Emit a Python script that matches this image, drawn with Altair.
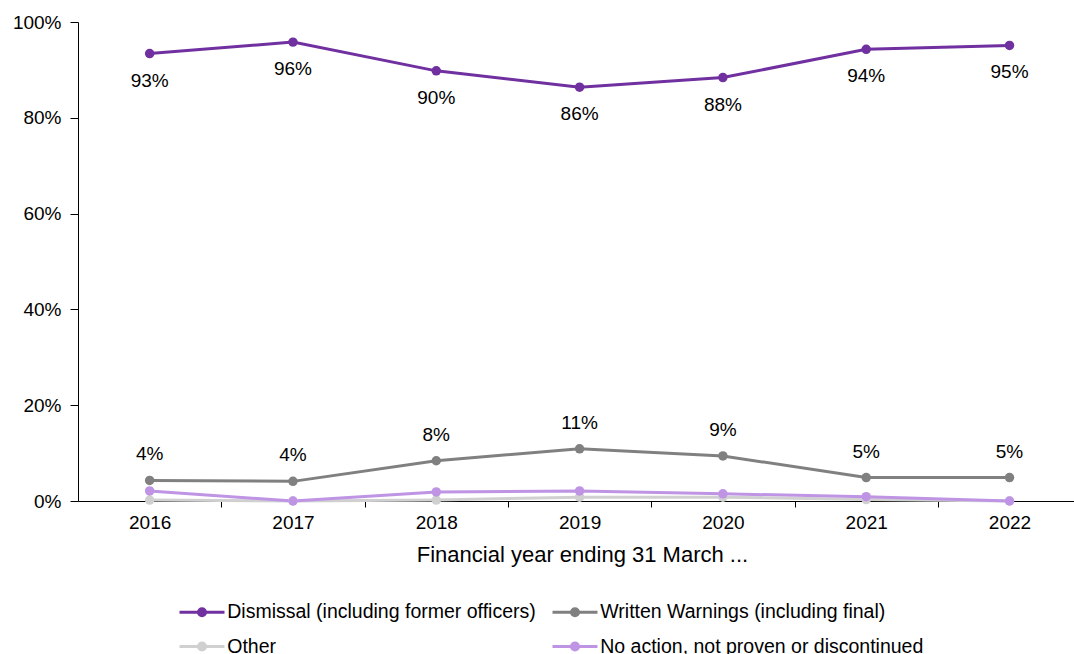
import altair as alt
import pandas as pd

years = [2016, 2017, 2018, 2019, 2020, 2021, 2022]
series_names = [
    "Dismissal (including former officers)",
    "Written Warnings (including final)",
    "Other",
    "No action, not proven or discontinued",
]
dismissal = [0.934, 0.958, 0.898, 0.864, 0.884, 0.943, 0.951]
written = [0.043, 0.041, 0.084, 0.109, 0.094, 0.049, 0.049]
other = [0.002, 0.000, 0.002, 0.008, 0.008, 0.003, 0.000]
no_action = [0.021, 0.000, 0.019, 0.021, 0.015, 0.009, 0.000]
series_colors = ["#7030A0", "#808080", "#D0D0D0", "#BF94E4"]

rows = []
for k, (name, vals) in enumerate(zip(series_names, [dismissal, written, other, no_action])):
    for yr, v in zip(years, vals):
        rows.append({"year": yr, "series": name, "share": v, "order": k})
df = pd.DataFrame(rows)

FONT = "Liberation Sans"

# line symbol with a dot in the middle, for the legend
legend_symbol = "M-2,0L2,0M-0.31,0a0.31,0.31 0 1,0 0.62,0a0.31,0.31 0 1,0 -0.62,0"

x_enc = alt.X(
    "year:Q",
    scale=alt.Scale(domain=[2015.5, 2022.45], nice=False, zero=False),
    axis=alt.Axis(
        title="Financial year ending 31 March ...",
        values=[2016, 2016.5, 2017, 2017.5, 2018, 2018.5, 2019, 2019.5,
                2020, 2020.5, 2021, 2021.5, 2022],
        labelExpr="datum.value % 1 == 0 ? '' + datum.value : ''",
        tickOpacity=alt.condition("datum.value % 1 == 0", alt.value(0), alt.value(1)),
        tickSize=6,
        tickColor="#000000",
        domainColor="#000000",
        grid=False,
        labelOverlap=False,
        labelPadding=6,
        titlePadding=12,
        titleX=504,
    ),
)
y_enc = alt.Y(
    "share:Q",
    scale=alt.Scale(domain=[0, 1], nice=False),
    axis=alt.Axis(
        title=None,
        values=[0, 0.2, 0.4, 0.6, 0.8, 1.0],
        format=".0%",
        tickSize=8,
        tickColor="#000000",
        domainColor="#000000",
        grid=False,
        labelPadding=9,
    ),
)
color_enc = alt.Color(
    "series:N",
    scale=alt.Scale(domain=series_names, range=series_colors),
    sort=series_names,
    legend=alt.Legend(
        title=None,
        orient="none",
        legendX=111,
        legendY=577,
        direction="horizontal",
        columns=2,
        columnPadding=10,
        rowPadding=11.5,
        symbolType=legend_symbol,
        symbolSize=506,
        symbolStrokeWidth=3,
        labelOffset=12.25,
        padding=0,
    ),
)

lines = alt.Chart(df).mark_line(
    strokeWidth=3,
    point=alt.OverlayMarkDef(filled=True, size=90, opacity=1),
).encode(x=x_enc, y=y_enc, color=color_enc, order="order:Q")

labels_below = alt.Chart(df).transform_filter(
    alt.datum.series == series_names[0]
).mark_text(dy=27, baseline="middle", font=FONT, fontSize=19, color="#000000").encode(
    x="year:Q", y="share:Q", text=alt.Text("share:Q", format=".0%")
)
labels_above = alt.Chart(df).transform_filter(
    alt.datum.series == series_names[1]
).mark_text(dy=-26, baseline="middle", font=FONT, fontSize=19, color="#000000").encode(
    x="year:Q", y="share:Q", text=alt.Text("share:Q", format=".0%")
)

chart = (
    alt.layer(lines, labels_below, labels_above)
    .properties(
        width=996,
        height=479,
        autosize=alt.AutoSizeParams(type="none"),
        padding={"left": 78, "top": 22, "right": 0, "bottom": 153},
        background="white",
    )
    .configure_view(stroke=None)
    .configure_axis(labelFont=FONT, labelFontSize=19, labelColor="#000000",
                    titleFont=FONT, titleFontSize=22, titleFontWeight="normal",
                    titleColor="#000000")
    .configure_legend(labelFont=FONT, labelFontSize=19.5, labelColor="#000000",
                      labelLimit=500)
)

chart.save("out.html", embed_options={"renderer": "svg", "actions": False})
